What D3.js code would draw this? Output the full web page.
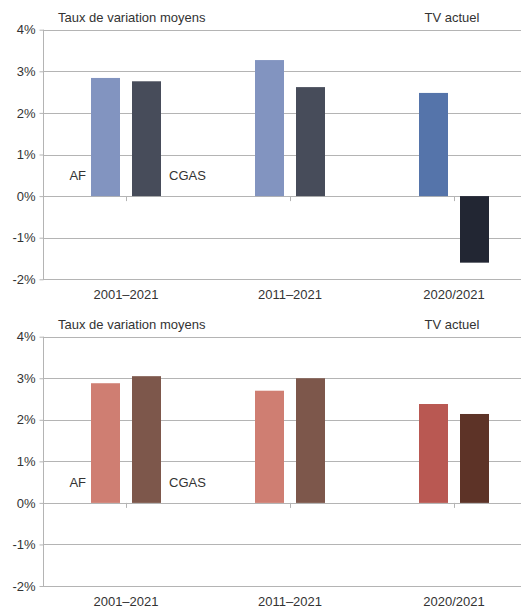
<!DOCTYPE html>
<html><head><meta charset="utf-8">
<script src="https://cdn.jsdelivr.net/npm/d3@7"></script>
<style>html,body{margin:0;padding:0;background:#fff;}svg{display:block;}</style>
</head><body>
<svg id="c" width="521" height="607"></svg>
<script>
const categories = ["2001–2021", "2011–2021", "2020/2021"];
const series = ["AF", "CGAS"];
const topAF   = [2.84, 3.27, 2.48];
const topCGAS = [2.76, 2.62, -1.60];
const botAF   = [2.88, 2.70, 2.38];
const botCGAS = [3.05, 3.00, 2.14];
const yTicks = [4, 3, 2, 1, 0, -1, -2];
const titleLeft = "Taux de variation moyens";
const titleRight = "TV actuel";

const topColors = {AF: ["#8294c0", "#8294c0", "#5574aa"], CGAS: ["#474c5a", "#474c5a", "#222633"]};
const botColors = {AF: ["#cf7e72", "#cf7e72", "#b95852"], CGAS: ["#7d574b", "#7d574b", "#5d3327"]};

const svg = d3.select("#c");
const font = "'Liberation Sans', Arial, sans-serif";
const fs = 13;
const textCol = "#333";
const gridCol = "#b4b4b4";

function panel(y0, y1, af, cgas, colors) {
  const g = svg.append("g");
  const x = d3.scaleBand().domain(categories).range([44, 536]).padding(0);
  const y = d3.scaleLinear().domain([-2, 4]).range([y1, y0]);
  const xs = d3.scaleBand().domain(series).range([-35, 35]).paddingInner(12 / 41).paddingOuter(0);
  // gridlines
  g.selectAll("line.grid").data(yTicks).join("line")
    .attr("x1", 43).attr("x2", 521)
    .attr("y1", d => Math.round(y(d)) + 0.5).attr("y2", d => Math.round(y(d)) + 0.5)
    .attr("stroke", gridCol).attr("stroke-width", 1);
  // y axis
  const yAxis = d3.axisLeft(y).tickValues(yTicks).tickFormat(d => d + "%").tickSize(4).tickPadding(4);
  const ya = g.append("g").attr("transform", "translate(43.5,0)").call(yAxis);
  ya.select(".domain").attr("stroke", gridCol).attr("d", `M0,${y(4)}V${y(-2)}`);
  ya.selectAll(".tick line").attr("stroke", gridCol);
  ya.selectAll(".tick text").attr("font-family", font).attr("font-size", fs).attr("fill", textCol).attr("x", -8);
  // category ticks at zero line
  g.selectAll("line.ct").data(categories).join("line")
    .attr("x1", d => Math.round(x(d) + x.bandwidth() / 2) + 0.5)
    .attr("x2", d => Math.round(x(d) + x.bandwidth() / 2) + 0.5)
    .attr("y1", y(0)).attr("y2", y(0) + 5)
    .attr("stroke", gridCol);
  // bars
  const data = [];
  categories.forEach((c, i) => {
    data.push({c, s: "AF", v: af[i], col: colors.AF[i]});
    data.push({c, s: "CGAS", v: cgas[i], col: colors.CGAS[i]});
  });
  g.selectAll("rect.bar").data(data).join("rect")
    .attr("x", d => x(d.c) + x.bandwidth() / 2 + xs(d.s))
    .attr("width", xs.bandwidth())
    .attr("y", d => y(Math.max(0, d.v)))
    .attr("height", d => Math.abs(y(d.v) - y(0)))
    .attr("fill", d => d.col);
  // category labels
  g.selectAll("text.cat").data(categories).join("text")
    .attr("x", d => x(d) + x.bandwidth() / 2)
    .attr("y", y1 + 19.5)
    .attr("text-anchor", "middle")
    .attr("font-family", font).attr("font-size", fs).attr("fill", textCol)
    .text(d => d);
  // series labels
  const c0 = x(categories[0]) + x.bandwidth() / 2;
  g.append("text").attr("x", c0 + xs("AF") - 5).attr("y", y(0.5) + 4.5)
    .attr("text-anchor", "end").attr("font-family", font).attr("font-size", fs).attr("fill", textCol).text("AF");
  g.append("text").attr("x", c0 + xs("CGAS") + xs.bandwidth() + 8).attr("y", y(0.5) + 4.5)
    .attr("text-anchor", "start").attr("font-family", font).attr("font-size", fs).attr("fill", textCol).text("CGAS");
  // titles
  g.append("text").attr("x", 58).attr("y", y0 - 8)
    .attr("font-family", font).attr("font-size", fs).attr("fill", textCol).text(titleLeft);
  g.append("text").attr("x", x(categories[2]) + x.bandwidth() / 2 - 2).attr("y", y0 - 8)
    .attr("text-anchor", "middle").attr("font-family", font).attr("font-size", fs).attr("fill", textCol).text(titleRight);
}

panel(29.7, 279.3, topAF, topCGAS, topColors);
panel(336.7, 586, botAF, botCGAS, botColors);
</script>
</body></html>
